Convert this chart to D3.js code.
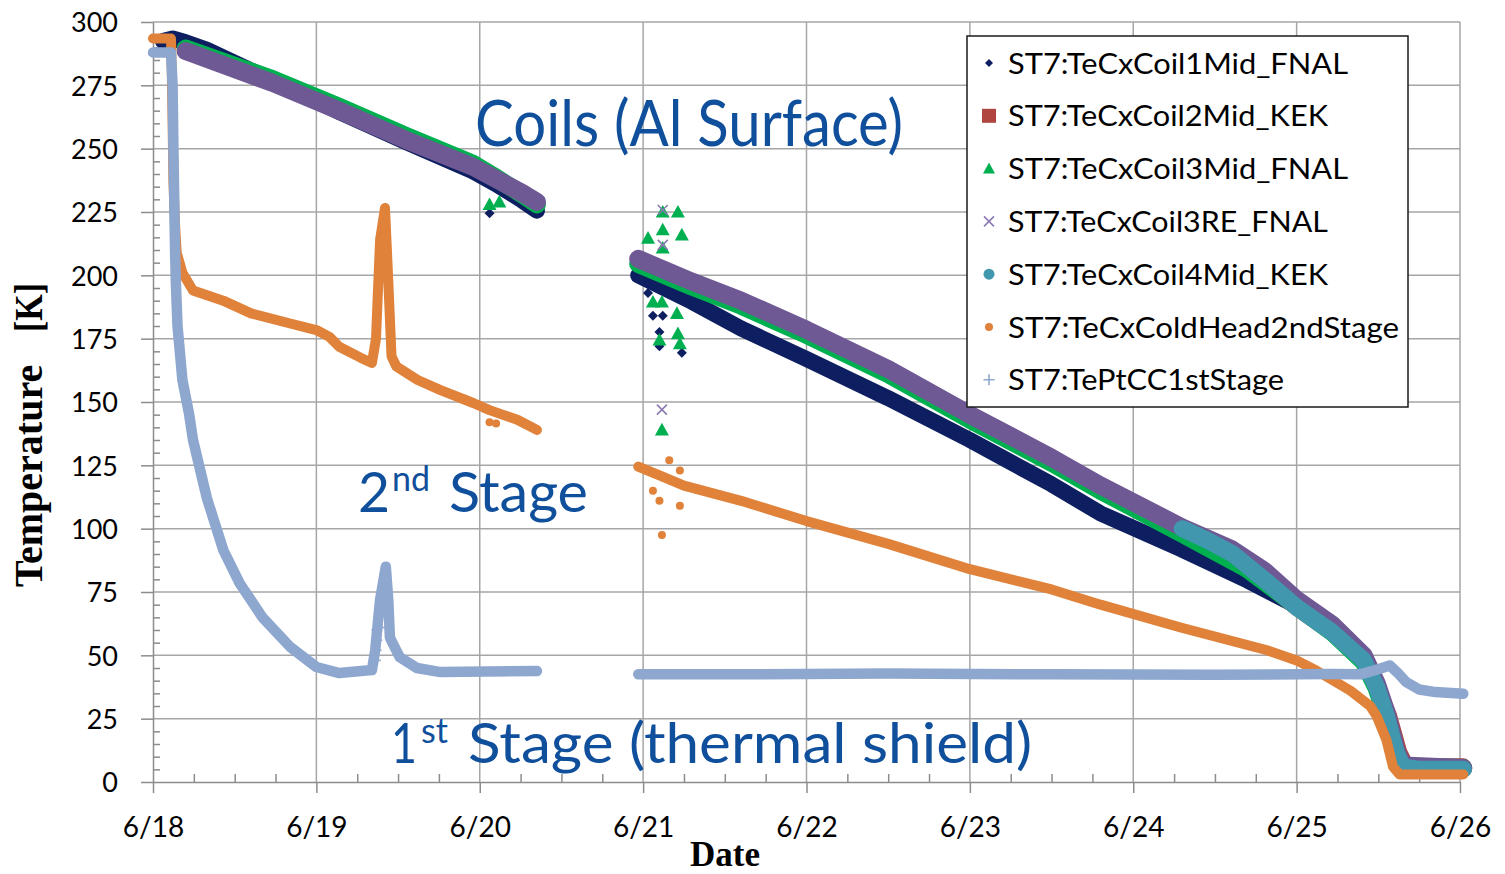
<!DOCTYPE html>
<html>
<head>
<meta charset="utf-8">
<script src="https://cdn.jsdelivr.net/npm/d3@7"></script>
<style>
  body { margin: 0; background: #ffffff; }
  svg { display: block; }
</style>
</head>
<body>
<svg id="chart" width="1505" height="874"></svg>
<script>
// ---- axis labels ----
const dayLabels = ["6/18", "6/19", "6/20", "6/21", "6/22", "6/23", "6/24", "6/25", "6/26"];
const tempTicks = [0, 25, 50, 75, 100, 125, 150, 175, 200, 225, 250, 275, 300];

// ---- series: [days after 6/18 00:00, temperature in K]; null temperature = no data ----
const coil1Mid_FNAL = [
  [0.06, 292.5], [0.12, 293.5], [0.2, 292], [0.33, 289], [0.73, 277], [1.14, 264.5],
  [1.55, 252.5], [1.96, 241], [2.1, 236], [2.26, 229.5], [2.35, 225.5],
  [2.6, null],
  [2.97, 200], [3.3, 189.5], [3.6, 179], [4.0, 167], [4.5, 151.5], [5.0, 135], [5.5, 117.5],
  [5.8, 106], [6.29, 92], [6.7, 79.5], [7.0, 69.5], [7.22, 60], [7.41, 48.5],
  [7.49, 38], [7.55, 26], [7.61, 11.5], [7.65, 6], [8.02, 5]
];
const coil2Mid_KEK = [
  [6.3, 99], [6.61, 89], [7.0, 68.5], [7.22, 58.5], [7.41, 47.5], [7.5, 37], [7.57, 26],
  [7.63, 12], [7.67, 6.8], [7.75, 6.4], [8.02, 6.4]
];
const coil3Mid_FNAL = [
  [0.2, 289.5], [0.73, 277.5], [1.14, 266.5], [1.55, 255], [1.96, 244], [2.1, 238.5],
  [2.26, 232], [2.35, 228],
  [2.6, null],
  [2.97, 204.5], [3.3, 195.5], [3.6, 188], [4.0, 176.5], [4.5, 161], [5.0, 143], [5.5, 126],
  [5.8, 115], [6.3, 98], [6.7, 84], [7.0, 69.5], [7.22, 59], [7.41, 47.5], [7.49, 37],
  [7.55, 25.5], [7.61, 11], [7.65, 6], [8.02, 5.5]
];
const coil3RE_FNAL = [
  [0.2, 288.5], [0.23, 287.8], [0.73, 276], [1.14, 265], [1.55, 253.4], [1.96, 242.8],
  [2.26, 232.5], [2.35, 229],
  [2.6, null],
  [2.97, 206.5], [3.3, 197.5], [3.6, 190], [4.0, 178.5], [4.5, 163], [5.0, 145], [5.5, 128],
  [5.8, 117], [6.3, 100.5], [6.6, 92], [6.8, 83.5], [7.0, 72], [7.22, 62], [7.41, 50],
  [7.49, 39], [7.55, 27.5], [7.61, 12.5], [7.65, 6.5], [8.02, 5.5]
];
const coil4Mid_KEK = [
  [6.3, 100], [6.45, 95.5], [6.61, 90], [6.8, 80], [7.0, 69], [7.22, 59], [7.41, 48],
  [7.49, 37.5], [7.55, 26], [7.61, 11.5], [7.65, 6], [7.75, 5], [8.02, 5]
];
const coldHead2ndStage = [
  [0.0, 293.5], [0.11, 293.5], [0.115, 280], [0.12, 260], [0.125, 237], [0.135, 220],
  [0.145, 209], [0.18, 201], [0.245, 194], [0.43, 190], [0.6, 185], [0.84, 181], [1.0, 178.4],
  [1.08, 175.7], [1.14, 171.8], [1.27, 167.5], [1.34, 165.4], [1.365, 175], [1.375, 191],
  [1.39, 214], [1.42, 226.6], [1.44, 198], [1.46, 168], [1.49, 164], [1.62, 158.7],
  [1.76, 154.7], [1.96, 149.6], [2.06, 146.8], [2.23, 143], [2.35, 139],
  [2.6, null],
  [2.97, 124.5], [3.1, 121], [3.25, 117], [3.6, 111], [4.0, 103], [4.5, 94], [5.0, 84],
  [5.5, 76], [5.8, 70], [6.29, 61], [6.82, 52], [7.0, 48], [7.12, 44], [7.33, 36],
  [7.45, 30], [7.49, 26], [7.55, 16.5], [7.59, 6], [7.63, 3], [8.02, 3]
];
const ptCC1stStage = [
  [0.0, 288], [0.11, 288], [0.12, 275], [0.125, 250], [0.13, 230], [0.135, 210], [0.14, 197],
  [0.15, 180], [0.18, 158.7], [0.22, 145.6], [0.245, 135], [0.33, 112], [0.43, 91.6],
  [0.53, 78.5], [0.67, 65], [0.84, 53.3], [1.0, 45.4], [1.14, 43], [1.34, 44.2], [1.36, 52],
  [1.39, 72], [1.425, 85], [1.44, 72], [1.45, 57], [1.51, 49.3], [1.615, 45], [1.76, 43.4],
  [2.35, 43.8],
  [2.6, null],
  [2.97, 42.5], [3.5, 42.5], [4.5, 42.8], [5.5, 42.5], [6.5, 42.3], [7.2, 42.6], [7.39, 42.5],
  [7.5, 44.5], [7.57, 46], [7.62, 43], [7.67, 39.5], [7.75, 36.5], [7.85, 35.5], [8.02, 34.8]
];

// scattered readings around the 6/21 restart
const coil1Scatter = [[3.06, 184], [3.12, 184], [3.10, 177.6], [3.237, 169.4], [3.03, 193], [3.10, 172], [2.06, 224.5]];
const coil3MidScatter = [
  [3.03, 214.7], [3.12, 225], [3.12, 218], [3.12, 210.8], [3.213, 225], [3.237, 216],
  [3.06, 189.5], [3.115, 189.5], [3.10, 174.5], [3.213, 177], [3.225, 173], [3.207, 185],
  [3.115, 139], [2.06, 228], [2.12, 229]
];
const coil3REScatter = [[3.115, 147], [3.12, 225.8], [3.12, 212]];
const coldHeadScatter = [[3.10, 111], [3.115, 97.5], [3.06, 115], [3.225, 109], [3.225, 123], [3.16, 127], [2.06, 142], [2.1, 141.5]];
const stage1Scatter = [[1.36, 48], [1.365, 52], [1.37, 56], [1.37, 60], [1.43, 61], [1.43, 66], [1.43, 71]];

const seriesNames = [
  "ST7:TeCxCoil1Mid_FNAL", "ST7:TeCxCoil2Mid_KEK", "ST7:TeCxCoil3Mid_FNAL",
  "ST7:TeCxCoil3RE_FNAL", "ST7:TeCxCoil4Mid_KEK", "ST7:TeCxColdHead2ndStage", "ST7:TePtCC1stStage"
];

// ---- drawing ----
const svg = d3.select("#chart");
svg.append("rect").attr("width", 1505).attr("height", 874).attr("fill", "#ffffff");

const x = d3.scaleLinear().domain([0, 8]).range([153, 1460]);
const y = d3.scaleLinear().domain([0, 300]).range([782, 22]);

const gridColor = "#a6a6a6";
const axisColor = "#8c8c8c";
const tickFont = "Lato, 'Open Sans', sans-serif";

// gridlines
const grid = svg.append("g");
grid.selectAll("line.h").data(tempTicks.filter(t => t > 0)).join("line")
  .attr("x1", x(0)).attr("x2", x(8))
  .attr("y1", d => y(d)).attr("y2", d => y(d))
  .attr("stroke", gridColor).attr("stroke-width", 1.5);
grid.selectAll("line.v").data(d3.range(1, dayLabels.length)).join("line")
  .attr("x1", d => x(d)).attr("x2", d => x(d))
  .attr("y1", y(0)).attr("y2", y(300))
  .attr("stroke", gridColor).attr("stroke-width", 1.5);

// minor ticks
const minorY = d3.range(0, 301, 5).filter(v => v % 25 !== 0);
const minorX = d3.range(0, 8.001, 0.25).filter(v => Math.abs(v - Math.round(v)) > 1e-6);
const yMinor = svg.append("g").attr("transform", `translate(${x(0)},0)`)
  .call(d3.axisLeft(y).tickValues(minorY).tickSize(-7).tickFormat(""));
const xMinor = svg.append("g").attr("transform", `translate(0,${y(0)})`)
  .call(d3.axisBottom(x).tickValues(minorX).tickSize(-8).tickFormat(""));
[yMinor, xMinor].forEach(g => {
  g.select(".domain").remove();
  g.selectAll("line").attr("stroke", axisColor).attr("stroke-width", 1.5);
});

// main axes
const yAxis = svg.append("g").attr("transform", `translate(${x(0)},0)`)
  .call(d3.axisLeft(y).tickValues(tempTicks).tickSize(12).tickSizeOuter(0).tickPadding(23));
const xAxis = svg.append("g").attr("transform", `translate(0,${y(0)})`)
  .call(d3.axisBottom(x).tickValues(d3.range(0, dayLabels.length)).tickSize(11).tickSizeOuter(0)
    .tickPadding(24).tickFormat(i => dayLabels[i]));
[yAxis, xAxis].forEach(g => {
  g.select(".domain").attr("stroke", axisColor).attr("stroke-width", 1.5);
  g.selectAll(".tick line").attr("stroke", axisColor).attr("stroke-width", 1.5);
  g.selectAll("text").attr("fill", "#000").attr("font-family", tickFont);
});
yAxis.selectAll("text").attr("font-size", 27).attr("dy", "0.36em");
xAxis.selectAll("text").attr("font-size", 28);

// series bands
const line = d3.line()
  .defined(d => d[1] !== null)
  .x(d => x(d[0])).y(d => y(d[1]));

const bands = [
  { data: coil1Mid_FNAL, color: "#0d1f60", width: 16 },
  { data: coil2Mid_KEK, color: "#b0443f", width: 15 },
  { data: coil3Mid_FNAL, color: "#00b050", width: 18 },
  { data: coil3RE_FNAL, color: "#6e5994", width: 18 },
  { data: coil4Mid_KEK, color: "#4197ae", width: 17 },
  { data: coldHead2ndStage, color: "#e0823a", width: 10 },
  { data: ptCC1stStage, color: "#8ea7cf", width: 10.5 }
];
const plot = svg.append("g");
bands.forEach(b => {
  plot.append("path").datum(b.data)
    .attr("d", line)
    .attr("fill", "none")
    .attr("stroke", b.color)
    .attr("stroke-width", b.width)
    .attr("stroke-linejoin", "round")
    .attr("stroke-linecap", "round");
});

// marker shapes
function markerPath(kind, s) {
  switch (kind) {
    case "diamond": return `M0,${-s}L${s},0L0,${s}L${-s},0Z`;
    case "square": return `M${-s},${-s}H${s}V${s}H${-s}Z`;
    case "triangle": return `M0,${-s}L${s},${s * 0.8}L${-s},${s * 0.8}Z`;
    case "circle": return `M${s},0A${s},${s} 0 1,1 ${-s},0A${s},${s} 0 1,1 ${s},0Z`;
    case "x": return `M${-s},${-s}L${s},${s}M${-s},${s}L${s},${-s}`;
    case "plus": return `M${-s},0H${s}M0,${-s}V${s}`;
  }
}
function drawMarkers(g, data, kind, s, color) {
  const stroked = kind === "x" || kind === "plus";
  g.selectAll(null).data(data).join("path")
    .attr("transform", d => `translate(${x(d[0])},${y(d[1])})`)
    .attr("d", markerPath(kind, s))
    .attr("fill", stroked ? "none" : color)
    .attr("stroke", stroked ? color : "none")
    .attr("stroke-width", stroked ? 1.6 : 0);
}
const scatter = svg.append("g");
drawMarkers(scatter, coil1Scatter, "diamond", 5, "#0d1f60");
drawMarkers(scatter, coil3MidScatter, "triangle", 7, "#00b050");
drawMarkers(scatter, coil3REScatter, "x", 5, "#8c7bb2");
drawMarkers(scatter, coldHeadScatter, "circle", 4, "#e0823a");
drawMarkers(scatter, stage1Scatter, "plus", 5.5, "#8ea7cf");

// annotations
const noteColor = "#0f4f9b";
const noteFont = "Lato, 'Open Sans', sans-serif";
const notes = svg.append("g").attr("fill", noteColor).attr("font-family", noteFont);
notes.append("text").attr("x", 475).attr("y", 146).attr("font-size", 63)
  .attr("textLength", 428).attr("lengthAdjust", "spacingAndGlyphs").text("Coils (Al Surface)");
notes.append("text").attr("x", 358).attr("y", 512).attr("font-size", 56)
  .attr("textLength", 32).attr("lengthAdjust", "spacingAndGlyphs").text("2");
notes.append("text").attr("x", 392).attr("y", 491).attr("font-size", 34)
  .attr("textLength", 38).attr("lengthAdjust", "spacingAndGlyphs").text("nd");
notes.append("text").attr("x", 449).attr("y", 512).attr("font-size", 56)
  .attr("textLength", 139).attr("lengthAdjust", "spacingAndGlyphs").text("Stage");
notes.append("text").attr("x", 391).attr("y", 763).attr("font-size", 56)
  .attr("textLength", 26).attr("lengthAdjust", "spacingAndGlyphs").text("1");
notes.append("text").attr("x", 421).attr("y", 743).attr("font-size", 34)
  .attr("textLength", 27).attr("lengthAdjust", "spacingAndGlyphs").text("st");
notes.append("text").attr("x", 468).attr("y", 763).attr("font-size", 56)
  .attr("textLength", 564).attr("lengthAdjust", "spacingAndGlyphs").text("Stage (thermal shield)");

// axis titles
const titleFont = "'Liberation Serif', 'Times New Roman', serif";
const yTitle = svg.append("g").attr("transform", "translate(42,587) rotate(-90)")
  .attr("font-family", titleFont).attr("font-weight", "bold").attr("font-size", 40).attr("fill", "#000");
yTitle.append("text").attr("x", 0).attr("y", 0).text("Temperature");
yTitle.append("text").attr("x", 255).attr("y", 0).attr("textLength", 49)
  .attr("lengthAdjust", "spacingAndGlyphs").text("[K]");
svg.append("text").attr("x", 725).attr("y", 866).attr("text-anchor", "middle")
  .attr("font-family", titleFont).attr("font-weight", "bold").attr("font-size", 35)
  .attr("fill", "#000").text("Date");

// legend
const legendMarkers = [
  { kind: "diamond", s: 4, color: "#0d1f60" },
  { kind: "square", s: 7, color: "#b0443f" },
  { kind: "triangle", s: 6, color: "#00b050" },
  { kind: "x", s: 5, color: "#8c7bb2" },
  { kind: "circle", s: 5.5, color: "#4197ae" },
  { kind: "circle", s: 4, color: "#e0823a" },
  { kind: "plus", s: 5.5, color: "#8ea7cf" }
];
const legendWidths = [340, 320, 340, 320, 320, 391, 276];
const legend = svg.append("g");
legend.append("rect").attr("x", 967).attr("y", 36).attr("width", 441).attr("height", 371)
  .attr("fill", "#ffffff").attr("stroke", "#1a1a1a").attr("stroke-width", 1.5);
seriesNames.forEach((name, i) => {
  const cy = 63 + i * 52.8;
  const m = legendMarkers[i];
  const stroked = m.kind === "x" || m.kind === "plus";
  legend.append("path").attr("transform", `translate(989,${cy})`)
    .attr("d", markerPath(m.kind, m.s))
    .attr("fill", stroked ? "none" : m.color)
    .attr("stroke", stroked ? m.color : "none")
    .attr("stroke-width", stroked ? 1.6 : 0);
  legend.append("text").attr("x", 1008).attr("y", cy + 10.5)
    .attr("font-family", noteFont).attr("font-size", 29).attr("fill", "#000")
    .attr("textLength", legendWidths[i]).attr("lengthAdjust", "spacingAndGlyphs")
    .text(name);
});
</script>
</body>
</html>
